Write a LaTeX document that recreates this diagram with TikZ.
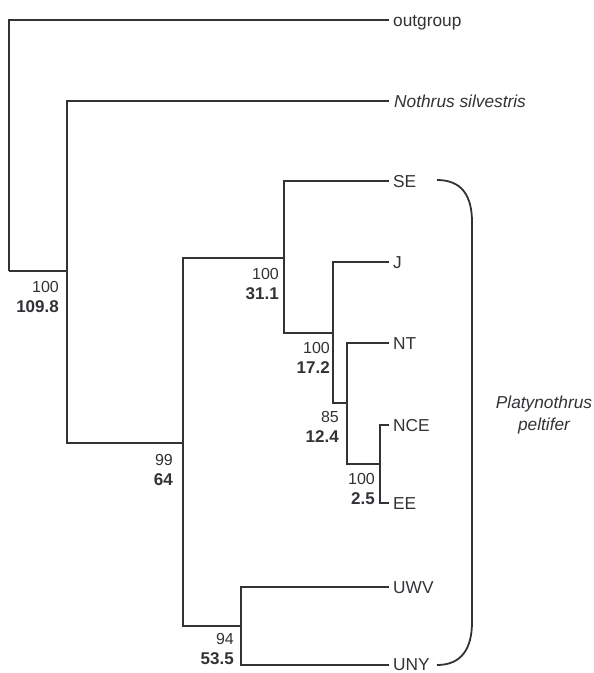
\documentclass[tikz,border=0pt]{standalone}
\usepackage{fontspec}
\setmainfont{Liberation Sans}
\definecolor{ink}{RGB}{50,50,55}
\newcommand{\agenum}[1]{{\fontsize{17}{20.5}\selectfont\bfseries #1}}
\begin{document}
\begin{tikzpicture}[x=1pt,y=-1pt,
  branch/.style={draw=ink, line width=1.5pt},
  leaf/.style={anchor=base west, inner sep=0pt, text=ink, font=\fontsize{17.3}{20}\selectfont},
  supp/.style={anchor=north east, inner sep=0pt, align=right, text=ink, font=\fontsize{16}{20.5}\selectfont},
  brace/.style={draw=ink, line width=1.8pt},
  species/.style={align=center, inner sep=0pt, text=ink, font=\fontsize{17.3}{21.5}\selectfont\itshape}
]
\useasboundingbox (0,0) rectangle (594,673);

% internal nodes (point of attachment to parent)
\coordinate (R) at (9,271);
\coordinate (A) at (67,271);
\coordinate (B) at (183,443);
\coordinate (C) at (284,258);
\coordinate (D) at (333,333);
\coordinate (E) at (347,403);
\coordinate (F) at (380,464);
\coordinate (G) at (241,626);

% leaf tips
\coordinate (tOut) at (389,20);
\coordinate (tNot) at (389,101);
\coordinate (tSE)  at (389,181);
\coordinate (tJ)   at (389,262);
\coordinate (tNT)  at (389,343);
\coordinate (tNCE) at (389,425);
\coordinate (tEE)  at (389,503);
\coordinate (tUWV) at (389,587);
\coordinate (tUNY) at (389,665);

% leaf labels
\node[leaf] (lOut) at ([xshift=4pt,yshift=-6pt]tOut) {outgroup};
\node[leaf] (lNot) at ([xshift=5pt,yshift=-6pt]tNot) {\itshape Nothrus silvestris};
\node[leaf] (lSE)  at ([xshift=4pt,yshift=-6pt]tSE) {SE};
\node[leaf] (lJ)   at ([xshift=4pt,yshift=-6pt]tJ) {J};
\node[leaf] (lNT)  at ([xshift=4pt,yshift=-6pt]tNT) {NT};
\node[leaf] (lNCE) at ([xshift=4pt,yshift=-6pt]tNCE) {NCE};
\node[leaf] (lEE)  at ([xshift=4pt,yshift=-6pt]tEE) {EE};
\node[leaf] (lUWV) at ([xshift=4pt,yshift=-6pt]tUWV) {UWV};
\node[leaf] (lUNY) at ([xshift=4pt,yshift=-5pt]tUNY) {UNY};

% branches
\draw[branch] (R) |- (tOut);
\draw[branch] (R) -- (A);
\draw[branch] (A) |- (tNot);
\draw[branch] (A) |- (B);
\draw[branch] (B) |- (C);
\draw[branch] (B) |- (G);
\draw[branch] (C) |- (tSE);
\draw[branch] (C) |- (D);
\draw[branch] (D) |- (tJ);
\draw[branch] (D) |- (E);
\draw[branch] (E) |- (tNT);
\draw[branch] (E) |- (F);
\draw[branch] (F) |- (tNCE);
\draw[branch] (F) |- (tEE);
\draw[branch] (G) |- (tUWV);
\draw[branch] (G) |- (tUNY);

% support / age labels
\node[supp] (sA) at ([xshift=-8pt,yshift=-10pt]A) {100\\\agenum{109.8}};
\node[supp] (sB) at ([xshift=-10pt,yshift=-11pt]B) {99\\\agenum{64}};
\node[supp] (sC) at ([xshift=-5pt,yshift=-10pt]C) {100\\\agenum{31.1}};
\node[supp] (sD) at ([xshift=-3pt,yshift=-9pt]D) {100\\\agenum{17.2}};
\node[supp] (sE) at ([xshift=-8pt,yshift=-8pt]E) {85\\\agenum{12.4}};
\node[supp] (sF) at ([xshift=-5pt,yshift=-9pt]F) {100\\\agenum{2.5}};
\node[supp] (sG) at ([xshift=-7pt,yshift=-7pt]G) {94\\\agenum{53.5}};

% bracket
\coordinate (bTop) at (437,180);
\coordinate (bBot) at (437,665);
\draw[brace] (bTop) .. controls (462,180) and (472,196) .. (472,222)
  -- (472,622) .. controls (472,648) and (462,665) .. (bBot);

\node[species] (sp) at (544,415) {Platynothrus\\peltifer};
\end{tikzpicture}
\end{document}
